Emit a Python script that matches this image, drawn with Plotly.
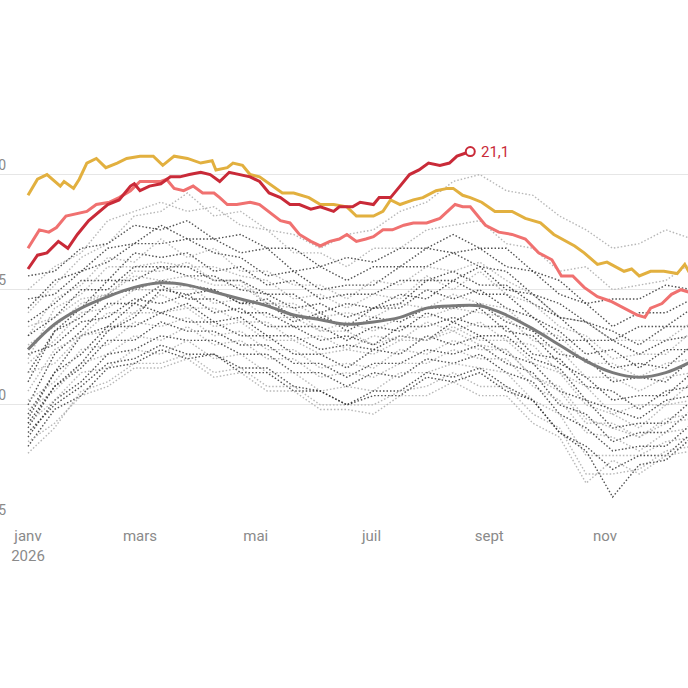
"""
Température de surface de la mer : années passées (pointillés), moyenne, 2024/2025 et 2026 en cours.
Rendu Plotly, écrit dans out.html.
"""

from __future__ import annotations

import pandas as pd
import plotly.graph_objects as go

YEAR_START = "2026-01-01"

# jour de l'année (0 = 1er janvier) pour les années grises et la moyenne
GRAY_DAYS = [0, 14, 28, 42, 56, 70, 84, 98, 112, 126, 140, 154, 168,
             182, 196, 210, 224, 238, 252, 266, 280, 294, 308, 322, 336, 350]

# années passées : (teinte, valeurs °C)
GRAY_YEARS = [
    ("light", [20.40, 20.52, 20.64, 20.70, 20.82, 20.84, 20.92, 20.82, 20.84, 20.76, 20.74, 20.68, 20.74,
               20.76, 20.84, 20.88, 20.97, 21.00, 20.93, 20.91, 20.82, 20.76, 20.68, 20.70, 20.76, 20.72]),
    ("light", [20.50, 20.60, 20.66, 20.80, 20.84, 20.88, 20.84, 20.86, 20.78, 20.76, 20.66, 20.66, 20.60,
               20.68, 20.68, 20.76, 20.78, 20.80, 20.70, 20.68, 20.58, 20.60, 20.50, 20.52, 20.54, 20.62]),
    ("dark", [20.56, 20.58, 20.68, 20.70, 20.78, 20.76, 20.80, 20.72, 20.74, 20.68, 20.68, 20.60, 20.64,
              20.62, 20.68, 20.68, 20.74, 20.68, 20.68, 20.58, 20.54, 20.44, 20.46, 20.46, 20.52, 20.50]),
    ("dark", [20.42, 20.54, 20.58, 20.68, 20.70, 20.78, 20.72, 20.72, 20.66, 20.68, 20.58, 20.60, 20.54,
              20.60, 20.60, 20.68, 20.66, 20.68, 20.60, 20.58, 20.48, 20.44, 20.34, 20.40, 20.40, 20.46]),
    ("dark", [20.46, 20.48, 20.58, 20.62, 20.70, 20.70, 20.72, 20.66, 20.64, 20.56, 20.58, 20.50, 20.52,
              20.52, 20.60, 20.60, 20.66, 20.60, 20.58, 20.48, 20.44, 20.36, 20.32, 20.26, 20.34, 20.34]),
    ("light", [20.30, 20.46, 20.52, 20.64, 20.62, 20.72, 20.64, 20.68, 20.58, 20.58, 20.52, 20.52, 20.46,
               20.54, 20.52, 20.60, 20.58, 20.62, 20.54, 20.48, 20.38, 20.36, 20.28, 20.28, 20.28, 20.36]),
    ("dark", [20.36, 20.44, 20.54, 20.54, 20.66, 20.64, 20.66, 20.58, 20.60, 20.52, 20.54, 20.46, 20.48,
              20.48, 20.54, 20.54, 20.58, 20.52, 20.52, 20.44, 20.38, 20.28, 20.28, 20.22, 20.28, 20.30]),
    ("light", [20.20, 20.42, 20.48, 20.60, 20.60, 20.62, 20.60, 20.60, 20.56, 20.54, 20.46, 20.48, 20.42,
               20.48, 20.46, 20.56, 20.50, 20.58, 20.48, 20.44, 20.34, 20.30, 20.20, 20.22, 20.22, 20.32]),
    ("dark", [20.30, 20.38, 20.50, 20.50, 20.60, 20.60, 20.60, 20.54, 20.54, 20.48, 20.48, 20.40, 20.44,
              20.42, 20.48, 20.46, 20.54, 20.48, 20.48, 20.38, 20.32, 20.22, 20.24, 20.16, 20.24, 20.24]),
    ("dark", [20.14, 20.32, 20.42, 20.54, 20.54, 20.60, 20.56, 20.56, 20.50, 20.48, 20.42, 20.44, 20.38,
              20.42, 20.42, 20.50, 20.46, 20.50, 20.42, 20.38, 20.28, 20.28, 20.16, 20.18, 20.16, 20.26]),
    ("light", [20.26, 20.34, 20.44, 20.48, 20.56, 20.54, 20.56, 20.52, 20.52, 20.44, 20.44, 20.38, 20.40,
               20.38, 20.44, 20.42, 20.48, 20.44, 20.42, 20.32, 20.30, 20.18, 20.18, 20.12, 20.18, 20.20]),
    ("dark", [20.10, 20.32, 20.38, 20.48, 20.50, 20.54, 20.52, 20.50, 20.44, 20.44, 20.36, 20.40, 20.32,
              20.38, 20.36, 20.42, 20.42, 20.44, 20.36, 20.32, 20.22, 20.20, 20.10, 20.12, 20.10, 20.20]),
    ("light", [20.18, 20.28, 20.40, 20.42, 20.50, 20.50, 20.52, 20.44, 20.46, 20.38, 20.38, 20.32, 20.36,
               20.32, 20.38, 20.38, 20.42, 20.40, 20.38, 20.28, 20.24, 20.12, 20.12, 20.06, 20.12, 20.14]),
    ("dark", [20.00, 20.22, 20.32, 20.44, 20.44, 20.52, 20.46, 20.46, 20.40, 20.40, 20.34, 20.34, 20.28,
              20.34, 20.32, 20.40, 20.36, 20.42, 20.32, 20.30, 20.18, 20.12, 20.02, 20.04, 20.04, 20.14]),
    ("dark", [20.22, 20.26, 20.36, 20.38, 20.46, 20.44, 20.48, 20.40, 20.42, 20.34, 20.34, 20.28, 20.30,
              20.26, 20.34, 20.34, 20.38, 20.34, 20.34, 20.22, 20.20, 20.08, 20.06, 19.98, 20.06, 20.08]),
    ("light", [20.06, 20.24, 20.30, 20.40, 20.40, 20.48, 20.42, 20.42, 20.36, 20.36, 20.28, 20.30, 20.24,
               20.30, 20.28, 20.36, 20.32, 20.36, 20.28, 20.26, 20.14, 20.08, 19.96, 20.00, 20.00, 20.10]),
    ("dark", [19.96, 20.14, 20.30, 20.34, 20.44, 20.40, 20.44, 20.36, 20.38, 20.30, 20.30, 20.24, 20.26,
              20.24, 20.30, 20.28, 20.36, 20.30, 20.30, 20.20, 20.16, 20.02, 19.98, 19.94, 20.02, 20.04]),
    ("light", [20.14, 20.18, 20.30, 20.32, 20.40, 20.40, 20.42, 20.34, 20.36, 20.28, 20.28, 20.22, 20.24,
               20.22, 20.28, 20.28, 20.34, 20.28, 20.28, 20.18, 20.14, 20.00, 19.96, 19.90, 20.00, 20.02]),
    ("dark", [19.94, 20.14, 20.22, 20.34, 20.34, 20.40, 20.36, 20.36, 20.30, 20.30, 20.22, 20.22, 20.16,
              20.24, 20.22, 20.30, 20.26, 20.30, 20.22, 20.18, 20.06, 20.02, 19.90, 19.92, 19.92, 20.02]),
    ("light", [20.02, 20.10, 20.24, 20.26, 20.36, 20.34, 20.38, 20.30, 20.32, 20.24, 20.24, 20.16, 20.18,
               20.16, 20.24, 20.22, 20.28, 20.24, 20.24, 20.12, 20.08, 19.94, 19.90, 19.86, 19.94, 19.96]),
    ("dark", [19.90, 20.08, 20.16, 20.28, 20.28, 20.36, 20.32, 20.32, 20.26, 20.26, 20.18, 20.18, 20.12,
              20.18, 20.18, 20.24, 20.22, 20.26, 20.18, 20.14, 20.00, 19.96, 19.84, 19.88, 19.88, 19.98]),
    ("light", [19.98, 20.06, 20.18, 20.22, 20.30, 20.28, 20.34, 20.26, 20.28, 20.20, 20.20, 20.12, 20.14,
               20.12, 20.18, 20.18, 20.24, 20.20, 20.20, 20.08, 20.02, 19.88, 19.86, 19.80, 19.88, 19.90]),
    ("dark", [19.86, 20.02, 20.10, 20.22, 20.24, 20.30, 20.28, 20.28, 20.22, 20.22, 20.14, 20.14, 20.08,
              20.14, 20.12, 20.20, 20.18, 20.22, 20.14, 20.10, 19.96, 19.90, 19.80, 19.82, 19.82, 19.92]),
    ("light", [19.92, 20.02, 20.14, 20.16, 20.24, 20.22, 20.28, 20.20, 20.22, 20.14, 20.14, 20.06, 20.08,
               20.06, 20.14, 20.14, 20.18, 20.16, 20.14, 20.02, 19.96, 19.78, 19.78, 19.78, 19.84, 19.86]),
    ("dark", [19.82, 19.98, 20.04, 20.16, 20.18, 20.24, 20.20, 20.22, 20.14, 20.14, 20.06, 20.06, 20.00,
              20.06, 20.06, 20.14, 20.12, 20.16, 20.08, 20.02, 19.88, 19.82, 19.72, 19.78, 19.78, 19.88]),
    ("light", [19.79, 19.90, 20.06, 20.10, 20.18, 20.18, 20.22, 20.14, 20.16, 20.08, 20.08, 20.00, 20.00,
               20.00, 20.06, 20.08, 20.14, 20.08, 20.08, 19.96, 19.90, 19.70, 19.70, 19.72, 19.80, 19.82]),
    ("dark", [19.88, 20.00, 20.08, 20.18, 20.20, 20.26, 20.22, 20.22, 20.16, 20.16, 20.08, 20.06, 20.00,
              20.04, 20.04, 20.12, 20.10, 20.14, 20.06, 20.02, 19.88, 19.80, 19.60, 19.74, 19.76, 19.86]),
    ("light", [19.84, 19.92, 20.04, 20.08, 20.16, 20.16, 20.20, 20.12, 20.14, 20.06, 20.06, 19.98, 19.98,
               19.96, 20.04, 20.04, 20.10, 20.04, 20.04, 19.92, 19.86, 19.66, 19.76, 19.70, 19.78, 19.80]),
    ("dark", [19.92, 20.08, 20.18, 20.32, 20.38, 20.50, 20.48, 20.50, 20.44, 20.46, 20.38, 20.38, 20.34,
              20.42, 20.44, 20.54, 20.54, 20.60, 20.50, 20.48, 20.38, 20.36, 20.28, 20.34, 20.34, 20.42]),
    ("light", [20.34, 20.38, 20.46, 20.48, 20.58, 20.58, 20.62, 20.54, 20.54, 20.44, 20.42, 20.32, 20.32,
               20.26, 20.30, 20.28, 20.32, 20.26, 20.24, 20.12, 20.06, 19.92, 19.92, 19.86, 19.92, 19.94]),
]

MEAN_VALUES = [20.24, 20.35, 20.42, 20.47, 20.51, 20.53, 20.52, 20.49, 20.46, 20.43, 20.39, 20.37, 20.35,
               20.36, 20.38, 20.42, 20.43, 20.43, 20.39, 20.33, 20.26, 20.19, 20.14, 20.12, 20.14, 20.19]

YELLOW_DAYS = [0, 5, 10, 13, 17, 19, 22, 24, 27, 31, 36, 41, 47, 52, 59, 63, 66, 71, 77, 84, 91, 97, 99,
               105, 108, 113, 117, 122, 127, 134, 140, 148, 154, 161, 168, 173, 182, 187, 191, 196, 203,
               208, 215, 221, 224, 229, 233, 239, 246, 255, 262, 270, 277, 284, 288, 293, 300, 305, 314,
               318, 322, 328, 335, 342, 346, 348, 355, 364]
YELLOW_VALUES = [20.91, 20.98, 21.00, 20.98, 20.95, 20.97, 20.95, 20.94, 20.98, 21.05, 21.07, 21.03, 21.05,
                 21.07, 21.08, 21.08, 21.08, 21.04, 21.08, 21.07, 21.05, 21.06, 21.02, 21.03, 21.05, 21.04,
                 21.00, 20.99, 20.96, 20.92, 20.92, 20.90, 20.87, 20.87, 20.86, 20.82, 20.82, 20.84, 20.89,
                 20.87, 20.89, 20.90, 20.93, 20.94, 20.94, 20.91, 20.90, 20.88, 20.84, 20.84, 20.81, 20.79,
                 20.74, 20.71, 20.69, 20.66, 20.61, 20.62, 20.58, 20.59, 20.56, 20.58, 20.58, 20.57, 20.61,
                 20.58, 20.60, 20.62]

SALMON_DAYS = [0, 6, 11, 15, 20, 26, 31, 36, 43, 48, 54, 59, 64, 70, 73, 77, 82, 87, 92, 98, 101, 105,
               110, 117, 122, 127, 133, 138, 143, 149, 154, 159, 164, 168, 173, 178, 182, 187, 192, 198,
               203, 210, 217, 221, 225, 229, 233, 241, 248, 255, 262, 269, 276, 281, 287, 293, 300, 307,
               314, 321, 325, 328, 334, 339, 344, 348, 356, 364]
SALMON_VALUES = [20.68, 20.76, 20.75, 20.77, 20.82, 20.83, 20.84, 20.87, 20.88, 20.90, 20.93, 20.97, 20.97,
                 20.97, 20.98, 20.94, 20.93, 20.95, 20.92, 20.92, 20.90, 20.87, 20.87, 20.88, 20.87, 20.84,
                 20.80, 20.79, 20.74, 20.71, 20.69, 20.71, 20.72, 20.74, 20.71, 20.72, 20.73, 20.76, 20.76,
                 20.78, 20.79, 20.79, 20.81, 20.84, 20.87, 20.86, 20.86, 20.78, 20.75, 20.74, 20.72, 20.66,
                 20.63, 20.56, 20.56, 20.51, 20.47, 20.45, 20.42, 20.39, 20.38, 20.42, 20.44, 20.48, 20.50,
                 20.49, 20.50, 20.52]

RED_DAYS = [0, 5, 10, 16, 21, 26, 32, 38, 42, 48, 54, 56, 59, 64, 70, 75, 80, 85, 91, 96, 101, 106, 112,
            117, 122, 127, 133, 138, 143, 149, 154, 161, 164, 171, 175, 182, 185, 191, 196, 201, 206, 211,
            217, 222, 226, 233]
RED_VALUES = [20.59, 20.65, 20.66, 20.71, 20.68, 20.74, 20.80, 20.84, 20.87, 20.89, 20.95, 20.96, 20.93,
              20.95, 20.96, 20.99, 20.99, 21.00, 21.01, 21.00, 20.97, 21.01, 21.00, 20.99, 20.97, 20.92,
              20.90, 20.87, 20.87, 20.85, 20.86, 20.84, 20.86, 20.86, 20.88, 20.87, 20.90, 20.90, 20.95,
              21.00, 21.02, 21.05, 21.04, 21.05, 21.08, 21.10]

MONTH_TICKS = ["2026-01-01", "2026-03-01", "2026-05-01", "2026-07-01", "2026-09-01", "2026-11-01"]
MONTH_LABELS = ["janv<br>2026", "mars", "mai", "juil", "sept", "nov"]
Y_TICKS = [19.5, 20.0, 20.5, 21.0]


def _dates(days):
    return pd.Timestamp(YEAR_START) + pd.to_timedelta(days, unit="D")


def _main() -> None:
    fig = go.Figure()

    gray_x = _dates(GRAY_DAYS)
    for shade, values in GRAY_YEARS:
        color = "rgba(50, 50, 50, 0.85)" if shade == "dark" else "rgba(165, 165, 165, 0.8)"
        fig.add_trace(go.Scatter(
            x=gray_x, y=values, mode="lines",
            line=dict(color=color, width=1.4, dash="1.5px,2px"),
            hoverinfo="skip",
        ))

    fig.add_trace(go.Scatter(
        x=gray_x, y=MEAN_VALUES, mode="lines",
        line=dict(color="#7a7a7a", width=3, shape="spline"),
        hoverinfo="skip",
    ))
    fig.add_trace(go.Scatter(
        x=_dates(SALMON_DAYS), y=SALMON_VALUES, mode="lines",
        line=dict(color="#f07170", width=3),
    ))
    fig.add_trace(go.Scatter(
        x=_dates(YELLOW_DAYS), y=YELLOW_VALUES, mode="lines",
        line=dict(color="#e2b03f", width=3),
    ))
    red_x = _dates(RED_DAYS)
    fig.add_trace(go.Scatter(
        x=red_x, y=RED_VALUES, mode="lines",
        line=dict(color="#c92a38", width=3),
    ))
    fig.add_trace(go.Scatter(
        x=[red_x[-1]], y=[RED_VALUES[-1]], mode="markers",
        marker=dict(size=9, color="white", line=dict(color="#c92a38", width=2)),
    ))
    fig.add_annotation(
        x=red_x[-1], y=RED_VALUES[-1], text=f"{RED_VALUES[-1]:.1f}".replace(".", ","),
        showarrow=False, xanchor="left", xshift=9,
        font=dict(size=15, color="#c92a38"),
    )

    fig.update_layout(
        width=688, height=688,
        template="none",
        showlegend=False,
        separators=", ",
        paper_bgcolor="white", plot_bgcolor="white",
        margin=dict(l=0, r=0, t=117, b=168),
        font=dict(family="Roboto, Arial, sans-serif", color="#8a8a8a", size=15),
    )
    fig.update_xaxes(
        range=[_dates(-14.75), _dates(347.7)],
        tickvals=MONTH_TICKS, ticktext=MONTH_LABELS,
        showgrid=False, zeroline=False, showline=False, ticks="",
        ticklabelstandoff=5,
        tickfont=dict(size=15, color="#8a8a8a"), automargin=False,
    )
    fig.update_yaxes(
        range=[19.5, 21.25], tickvals=Y_TICKS, tickformat=".1f",
        showgrid=True, gridcolor="#e6e6e6", gridwidth=1.2,
        zeroline=False, showline=False, ticks="",
        ticklabelposition="outside top", ticklabelstandoff=-7,
        tickfont=dict(size=14, color="#8a8a8a"), automargin=False,
    )

    # la page ne doit pas décaler la figure de la marge par défaut du navigateur
    fig.write_html(
        "out.html",
        config={"displayModeBar": False},
        post_script="document.body.style.margin = '0';",
    )


if __name__ == "__main__":
    _main()
